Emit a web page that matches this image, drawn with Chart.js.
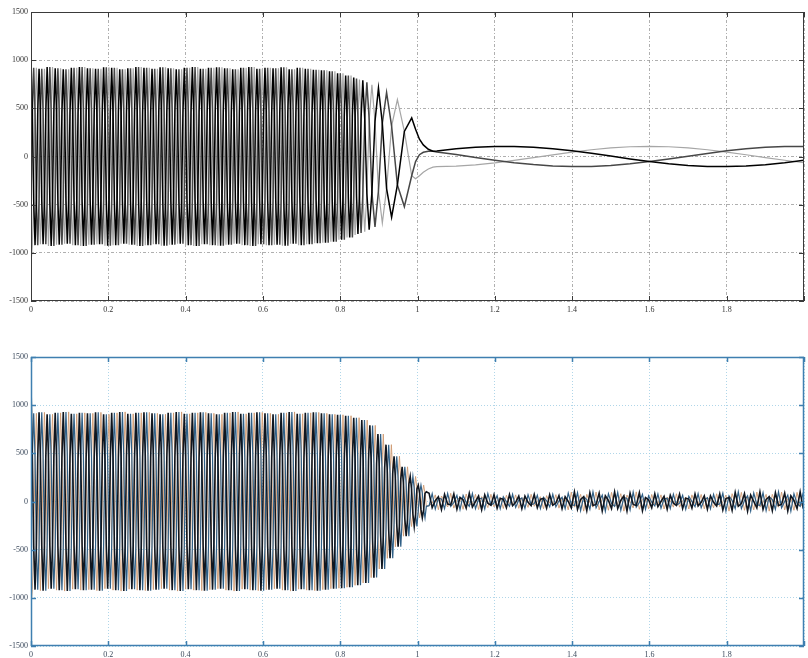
<!DOCTYPE html>
<html>
<head>
<meta charset="utf-8">
<title>Phase currents</title>
<script src="https://cdn.jsdelivr.net/npm/chart.js@4.4.1/dist/chart.umd.min.js"></script>
<style>
  html, body { margin: 0; padding: 0; background: #fff; }
  #wrap { position: relative; width: 808px; height: 658px; overflow: hidden; }
  #topChart { position: absolute; left: 0; top: 0; }
  #bottomChart { position: absolute; left: 0; top: 340px; }
</style>
</head>
<body>
<div id="wrap">
  <canvas id="topChart" width="808" height="318"></canvas>
  <canvas id="bottomChart" width="808" height="318"></canvas>
</div>
<script>
// sample spacing of the fast part: six samples per ~48 Hz cycle
var fastStep = 0.835 / 240;
var tailStart = 1.03;
var tailStep = 0.008;

var xTicks = [0, 0.2, 0.4, 0.6, 0.8, 1, 1.2, 1.4, 1.6, 1.8, 2];
var xTickLabels = ['0', '0.2', '0.4', '0.6', '0.8', '1', '1.2', '1.4', '1.6', '1.8', ''];
var yTicks = [-1500, -1000, -500, 0, 500, 1000, 1500];

// upper plot, steady part (one value per fastStep)
var topPhaseA = [
  1000, 460, -460, -920, -460, 460, 910, 455, -455, -910, -455, 455,
  930, 465, -465, -930, -465, 465, 915, 458, -458, -915, -458, 458,
  905, 453, -453, -905, -453, 453, 920, 460, -460, -920, -460, 460,
  930, 465, -465, -930, -465, 465, 915, 458, -458, -915, -458, 458,
  910, 455, -455, -910, -455, 455, 925, 463, -463, -925, -463, 463,
  920, 460, -460, -920, -460, 460, 905, 453, -453, -905, -453, 453,
  915, 458, -458, -915, -458, 458, 930, 465, -465, -930, -465, 465,
  920, 460, -460, -920, -460, 460, 910, 455, -455, -910, -455, 455,
  925, 463, -463, -925, -463, 463, 915, 458, -458, -915, -458, 458,
  905, 453, -453, -905, -453, 453, 920, 460, -460, -920, -460, 460,
  930, 465, -465, -930, -465, 465, 910, 455, -455, -910, -455, 455,
  920, 460, -460, -920, -460, 460, 925, 463, -463, -925, -463, 463,
  915, 458, -458, -915, -458, 458, 905, 453, -453, -905, -453, 453,
  920, 460, -460, -920, -460, 460, 930, 465, -465, -930, -465, 465,
  910, 455, -455, -910, -455, 455, 920, 460, -460, -920, -460, 460,
  915, 458, -458, -915, -458, 458, 925, 463, -463, -925, -463, 463,
  905, 453, -453, -905, -453, 453, 920, 460, -460, -920, -460, 460,
  910, 455, -455, -910, -455, 455, 900, 450, -450, -900, -450, 450,
  895, 448, -448, -895, -448, 448, 885, 443, -443, -885, -443, 443,
  865, 433, -433, -865, -433, 433, 840, 420, -420, -840, -420, 420,
  820
];
var topPhaseB = [
  -460, 460, 920, 460, -460, -920, -455, 455, 910, 455, -455, -910,
  -465, 465, 930, 465, -465, -930, -458, 458, 915, 458, -458, -915,
  -453, 453, 905, 453, -453, -905, -460, 460, 920, 460, -460, -920,
  -465, 465, 930, 465, -465, -930, -458, 458, 915, 458, -458, -915,
  -455, 455, 910, 455, -455, -910, -463, 463, 925, 463, -463, -925,
  -460, 460, 920, 460, -460, -920, -453, 453, 905, 453, -453, -905,
  -458, 458, 915, 458, -458, -915, -465, 465, 930, 465, -465, -930,
  -460, 460, 920, 460, -460, -920, -455, 455, 910, 455, -455, -910,
  -463, 463, 925, 463, -463, -925, -458, 458, 915, 458, -458, -915,
  -453, 453, 905, 453, -453, -905, -460, 460, 920, 460, -460, -920,
  -465, 465, 930, 465, -465, -930, -455, 455, 910, 455, -455, -910,
  -460, 460, 920, 460, -460, -920, -463, 463, 925, 463, -463, -925,
  -458, 458, 915, 458, -458, -915, -453, 453, 905, 453, -453, -905,
  -460, 460, 920, 460, -460, -920, -465, 465, 930, 465, -465, -930,
  -455, 455, 910, 455, -455, -910, -460, 460, 920, 460, -460, -920,
  -458, 458, 915, 458, -458, -915, -463, 463, 925, 463, -463, -925,
  -453, 453, 905, 453, -453, -905, -460, 460, 920, 460, -460, -920,
  -455, 455, 910, 455, -455, -910, -450, 450, 900, 450, -450, -900,
  -448, 448, 895, 448, -448, -895, -443, 443, 885, 443, -443, -885,
  -433, 433, 865, 433, -433, -865, -420, 420, 840, 420, -420, -840,
  -410
];
var topPhaseC = [
  -1100, -920, -460, 460, 920, 460, -455, -910, -455, 455, 910, 455,
  -465, -930, -465, 465, 930, 465, -458, -915, -458, 458, 915, 458,
  -453, -905, -453, 453, 905, 453, -460, -920, -460, 460, 920, 460,
  -465, -930, -465, 465, 930, 465, -458, -915, -458, 458, 915, 458,
  -455, -910, -455, 455, 910, 455, -463, -925, -463, 463, 925, 463,
  -460, -920, -460, 460, 920, 460, -453, -905, -453, 453, 905, 453,
  -458, -915, -458, 458, 915, 458, -465, -930, -465, 465, 930, 465,
  -460, -920, -460, 460, 920, 460, -455, -910, -455, 455, 910, 455,
  -463, -925, -463, 463, 925, 463, -458, -915, -458, 458, 915, 458,
  -453, -905, -453, 453, 905, 453, -460, -920, -460, 460, 920, 460,
  -465, -930, -465, 465, 930, 465, -455, -910, -455, 455, 910, 455,
  -460, -920, -460, 460, 920, 460, -463, -925, -463, 463, 925, 463,
  -458, -915, -458, 458, 915, 458, -453, -905, -453, 453, 905, 453,
  -460, -920, -460, 460, 920, 460, -465, -930, -465, 465, 930, 465,
  -455, -910, -455, 455, 910, 455, -460, -920, -460, 460, 920, 460,
  -458, -915, -458, 458, 915, 458, -463, -925, -463, 463, 925, 463,
  -453, -905, -453, 453, 905, 453, -460, -920, -460, 460, 920, 460,
  -455, -910, -455, 455, 910, 455, -450, -900, -450, 450, 900, 450,
  -448, -895, -448, 448, 895, 448, -443, -885, -443, 443, 885, 443,
  -433, -865, -433, 433, 865, 433, -420, -840, -420, 420, 840, 420,
  -410
];

// upper plot, slowing down and the slow tail
var topSlowTimes = [
  0.8386, 0.8422, 0.8459, 0.8498, 0.854, 0.8585, 0.8635, 0.869, 0.875, 0.882,
  0.89, 0.899, 0.909, 0.92, 0.933, 0.948, 0.966, 0.985,
  0.995, 1.005, 1.015, 1.028, 1.04,
  1.05, 1.1, 1.15, 1.2, 1.25, 1.3, 1.35, 1.4, 1.45, 1.5,
  1.55, 1.6, 1.65, 1.7, 1.75, 1.8, 1.85, 1.9, 1.95, 2.0
];
var topSlowA = [
  408, -405, -805, -400, 398, 790, 390, -385, -760, -373,
  365, 710, 345, -333, -630, -295, 260, 400,
  282, 180, 120, 75, 55,
  58, 80, 95, 104, 104, 96, 81, 59, 33, 4,
  -25, -52, -75, -93, -103, -105, -99, -85, -65, -39
];
var topSlowB = [
  408, 810, 403, -400, -795, -395, 390, 770, 380, -373,
  -730, -355, 345, 665, 315, -295, -520, -200,
  -52, 19, 44, 55, 55,
  47, 20, -10, -38, -64, -84, -98, -105, -103, -93,
  -76, -53, -26, 3, 32, 59, 80, 96, 104, 104
];
var topSlowC = [
  -815, -405, 403, 800, 398, -395, -780, -385, 380, 745,
  365, -355, -690, -333, 315, 590, 260, -200,
  -230, -199, -164, -130, -110,
  -105, -99, -86, -66, -40, -12, 17, 45, 70, 89,
  101, 105, 101, 89, 70, 46, 18, -11, -39, -65
];

// lower plot, steady part and collapse (one value per fastStep)
var bottomPhaseA = [
  1200, 458, -458, -915, -458, 458, 925, 463, -463, -925, -463, 463,
  905, 453, -453, -905, -453, 453, 920, 460, -460, -920, -460, 460,
  930, 465, -465, -930, -465, 465, 910, 455, -455, -910, -455, 455,
  920, 460, -460, -920, -460, 460, 915, 458, -458, -915, -458, 458,
  925, 463, -463, -925, -463, 463, 905, 453, -453, -905, -453, 453,
  920, 460, -460, -920, -460, 460, 930, 465, -465, -930, -465, 465,
  910, 455, -455, -910, -455, 455, 920, 460, -460, -920, -460, 460,
  925, 463, -463, -925, -463, 463, 915, 458, -458, -915, -458, 458,
  905, 453, -453, -905, -453, 453, 920, 460, -460, -920, -460, 460,
  930, 465, -465, -930, -465, 465, 910, 455, -455, -910, -455, 455,
  920, 460, -460, -920, -460, 460, 925, 463, -463, -925, -463, 463,
  915, 458, -458, -915, -458, 458, 905, 453, -453, -905, -453, 453,
  920, 460, -460, -920, -460, 460, 930, 465, -465, -930, -465, 465,
  910, 455, -455, -910, -455, 455, 920, 460, -460, -920, -460, 460,
  925, 463, -463, -925, -463, 463, 915, 458, -458, -915, -458, 458,
  905, 453, -453, -905, -453, 453, 920, 460, -460, -920, -460, 460,
  930, 465, -465, -930, -465, 465, 910, 455, -455, -910, -455, 455,
  920, 460, -460, -920, -460, 460, 925, 463, -463, -925, -463, 463,
  915, 458, -458, -915, -458, 458, 905, 453, -453, -905, -453, 453,
  900, 450, -450, -900, -450, 450, 890, 445, -445, -890, -445, 445,
  870, 435, -435, -870, -435, 435, 845, 423, -423, -845, -423, 423,
  790, 395, -395, -790, -395, 395, 700, 350, -350, -700, -350, 350,
  590, 295, -295, -590, -295, 295, 470, 235, -235, -470, -235, 235,
  360, 180, -180, -360, -180, 180, 260, 130, -130, -260, -130, 130,
  170, 85, -85, -170, -85, 85, 100
];
var bottomPhaseB = [
  -458, 458, 915, 458, -458, -915, -463, 463, 925, 463, -463, -925,
  -453, 453, 905, 453, -453, -905, -460, 460, 920, 460, -460, -920,
  -465, 465, 930, 465, -465, -930, -455, 455, 910, 455, -455, -910,
  -460, 460, 920, 460, -460, -920, -458, 458, 915, 458, -458, -915,
  -463, 463, 925, 463, -463, -925, -453, 453, 905, 453, -453, -905,
  -460, 460, 920, 460, -460, -920, -465, 465, 930, 465, -465, -930,
  -455, 455, 910, 455, -455, -910, -460, 460, 920, 460, -460, -920,
  -463, 463, 925, 463, -463, -925, -458, 458, 915, 458, -458, -915,
  -453, 453, 905, 453, -453, -905, -460, 460, 920, 460, -460, -920,
  -465, 465, 930, 465, -465, -930, -455, 455, 910, 455, -455, -910,
  -460, 460, 920, 460, -460, -920, -463, 463, 925, 463, -463, -925,
  -458, 458, 915, 458, -458, -915, -453, 453, 905, 453, -453, -905,
  -460, 460, 920, 460, -460, -920, -465, 465, 930, 465, -465, -930,
  -455, 455, 910, 455, -455, -910, -460, 460, 920, 460, -460, -920,
  -463, 463, 925, 463, -463, -925, -458, 458, 915, 458, -458, -915,
  -453, 453, 905, 453, -453, -905, -460, 460, 920, 460, -460, -920,
  -465, 465, 930, 465, -465, -930, -455, 455, 910, 455, -455, -910,
  -460, 460, 920, 460, -460, -920, -463, 463, 925, 463, -463, -925,
  -458, 458, 915, 458, -458, -915, -453, 453, 905, 453, -453, -905,
  -450, 450, 900, 450, -450, -900, -445, 445, 890, 445, -445, -890,
  -435, 435, 870, 435, -435, -870, -423, 423, 845, 423, -423, -845,
  -395, 395, 790, 395, -395, -790, -350, 350, 700, 350, -350, -700,
  -295, 295, 590, 295, -295, -590, -235, 235, 470, 235, -235, -470,
  -180, 180, 360, 180, -180, -360, -130, 130, 260, 130, -130, -260,
  -85, 85, 170, 85, -85, -170, -50
];
var bottomPhaseC = [
  -1080, -915, -458, 458, 915, 458, -463, -925, -463, 463, 925, 463,
  -453, -905, -453, 453, 905, 453, -460, -920, -460, 460, 920, 460,
  -465, -930, -465, 465, 930, 465, -455, -910, -455, 455, 910, 455,
  -460, -920, -460, 460, 920, 460, -458, -915, -458, 458, 915, 458,
  -463, -925, -463, 463, 925, 463, -453, -905, -453, 453, 905, 453,
  -460, -920, -460, 460, 920, 460, -465, -930, -465, 465, 930, 465,
  -455, -910, -455, 455, 910, 455, -460, -920, -460, 460, 920, 460,
  -463, -925, -463, 463, 925, 463, -458, -915, -458, 458, 915, 458,
  -453, -905, -453, 453, 905, 453, -460, -920, -460, 460, 920, 460,
  -465, -930, -465, 465, 930, 465, -455, -910, -455, 455, 910, 455,
  -460, -920, -460, 460, 920, 460, -463, -925, -463, 463, 925, 463,
  -458, -915, -458, 458, 915, 458, -453, -905, -453, 453, 905, 453,
  -460, -920, -460, 460, 920, 460, -465, -930, -465, 465, 930, 465,
  -455, -910, -455, 455, 910, 455, -460, -920, -460, 460, 920, 460,
  -463, -925, -463, 463, 925, 463, -458, -915, -458, 458, 915, 458,
  -453, -905, -453, 453, 905, 453, -460, -920, -460, 460, 920, 460,
  -465, -930, -465, 465, 930, 465, -455, -910, -455, 455, 910, 455,
  -460, -920, -460, 460, 920, 460, -463, -925, -463, 463, 925, 463,
  -458, -915, -458, 458, 915, 458, -453, -905, -453, 453, 905, 453,
  -450, -900, -450, 450, 900, 450, -445, -890, -445, 445, 890, 445,
  -435, -870, -435, 435, 870, 435, -423, -845, -423, 423, 845, 423,
  -395, -790, -395, 395, 790, 395, -350, -700, -350, 350, 700, 350,
  -295, -590, -295, 295, 590, 295, -235, -470, -235, 235, 470, 235,
  -180, -360, -180, 180, 360, 180, -130, -260, -130, 130, 260, 130,
  -85, -170, -85, 85, 170, 85, -50
];

// lower plot, ripple after 1 s (one value per tailStep)
var bottomTailA = [
  85, -63, 9, 50, -83, 74, -26, -35, 78, -81, 43, 18, -69, 85, -57, 0, 57, -85, 69, -18,
  -38, 71, -69, 31, 23, -65, 73, -44, -8, 56, -75, 56, -8, -44, 73, -65, 23, 31, -69, 71,
  -38, -16, 61, -75, 50, 0, -67, 100, -81, 21, 50, -95, 91, -41, -31, 87, -98, 59, 11, -74,
  100, -74, 11, 59, -98, 87, -31, -41, 91, -95, 40, 17, -65, 80, -54, 0, 54, -80, 65, -17,
  -40, 76, -73, 33, 25, -69, 78, -47, -8, 59, -80, 59, -8, -47, 78, -87, 31, 41, -91, 95,
  -50, -21, 81, -100, 67, 0, -67, 100, -81, 21, 50, -95, 91, -41, -31, 87, -98, 59, 11, -74,
  100, -74
];
var bottomTailB = [
  -43, 81, -78, 35, 26, -74, 83, -50, -9, 63, -85, 63, -9, -50, 83, -74, 26, 35, -78, 81,
  -38, -16, 61, -75, 50, 0, -50, 75, -61, 16, 38, -71, 69, -31, -23, 65, -73, 44, 8, -56,
  75, -56, 8, 44, -73, 87, -31, -41, 91, -95, 50, 21, -81, 100, -67, 0, 67, -100, 81, -21,
  -50, 95, -91, 41, 31, -87, 98, -59, -11, 74, -80, 59, -8, -47, 78, -69, 25, 33, -73, 76,
  -40, -17, 65, -80, 54, 0, -54, 80, -65, 17, 40, -76, 73, -33, -25, 87, -98, 59, 11, -74,
  100, -74, 11, 59, -98, 87, -31, -41, 91, -95, 50, 21, -81, 100, -67, 0, 67, -100, 81, -21,
  -50, 95
];
var bottomTailC = [
  -43, -18, 69, -85, 57, 0, -57, 85, -69, 18, 43, -81, 78, -35, -26, 74, -83, 50, 9, -63,
  75, -56, 8, 44, -73, 65, -23, -31, 69, -71, 38, 16, -61, 75, -50, 0, 50, -75, 61, -16,
  -38, 71, -69, 31, 23, -87, 98, -59, -11, 74, -100, 74, -11, -59, 98, -87, 31, 41, -91, 95,
  -50, -21, 81, -100, 67, 0, -67, 100, -81, 21, 40, -76, 73, -33, -25, 69, -78, 47, 8, -59,
  80, -59, 8, 47, -78, 69, -25, -33, 73, -76, 40, 17, -65, 80, -54, 0, 67, -100, 81, -21,
  -50, 95, -91, 41, 31, -87, 98, -59, -11, 74, -100, 74, -11, -59, 98, -87, 31, 41, -91, 95,
  -50, -21
];

function timeGrid(start, step, count) {
  var t = [];
  for (var i = 0; i < count; i++) {
    t.push(+(start + i * step).toFixed(5));
  }
  return t;
}

function points(times, values) {
  return times.map(function(t, i) {
    return { x: t, y: values[i] };
  });
}

// box round the plot plus the small inward tick marks
var boxPlugin = {
  id: 'box',
  afterDraw: function(chart, args, opts) {
    var ctx = chart.ctx;
    var a = chart.chartArea;
    var xs = chart.scales.x;
    var ys = chart.scales.y;
    ctx.save();
    ctx.strokeStyle = opts.color;
    ctx.lineWidth = opts.width;
    ctx.strokeRect(a.left + 0.5, a.top + 0.5, a.right - a.left - 1, a.bottom - a.top - 1);
    ctx.beginPath();
    xs.ticks.forEach(function(t) {
      var px = Math.round(xs.getPixelForValue(t.value)) + 0.5;
      ctx.moveTo(px, a.bottom);
      ctx.lineTo(px, a.bottom - 5);
      ctx.moveTo(px, a.top);
      ctx.lineTo(px, a.top + 5);
    });
    ys.ticks.forEach(function(t) {
      var py = Math.round(ys.getPixelForValue(t.value)) + 0.5;
      ctx.moveTo(a.left, py);
      ctx.lineTo(a.left + 5, py);
      ctx.moveTo(a.right, py);
      ctx.lineTo(a.right - 5, py);
    });
    ctx.stroke();
    ctx.restore();
  }
};

function makeChart(id, datasets, look) {
  var tickFont = { family: 'Liberation Serif', size: 8 };
  return new Chart(document.getElementById(id), {
    type: 'line',
    data: { datasets: datasets },
    options: {
      responsive: false,
      animation: false,
      devicePixelRatio: 1,
      parsing: false,
      normalized: true,
      layout: { padding: { top: look.padTop, right: 1, left: 0, bottom: 0 } },
      elements: { point: { radius: 0 }, line: { tension: 0 } },
      plugins: {
        legend: { display: false },
        tooltip: { enabled: false },
        box: { color: look.box, width: look.boxWidth }
      },
      scales: {
        x: {
          type: 'linear',
          min: 0,
          max: 2,
          afterBuildTicks: function(s) {
            s.ticks = xTicks.map(function(v) { return { value: v }; });
          },
          afterFit: function(s) { s.height = look.xHeight; },
          ticks: {
            autoSkip: false,
            maxRotation: 0,
            padding: 4,
            color: look.label,
            font: tickFont,
            callback: function(v, i) { return xTickLabels[i]; }
          },
          grid: { color: look.grid, lineWidth: 0.8, drawTicks: false },
          border: { display: false, dash: look.dash }
        },
        y: {
          min: -1500,
          max: 1500,
          afterBuildTicks: function(s) {
            s.ticks = yTicks.map(function(v) { return { value: v }; });
          },
          afterFit: function(s) { s.width = 31; },
          ticks: {
            padding: 3,
            color: look.label,
            font: tickFont,
            callback: function(v) { return String(v); }
          },
          grid: { color: look.grid, lineWidth: 0.8, drawTicks: false },
          border: { display: false, dash: look.dash }
        }
      }
    },
    plugins: [boxPlugin]
  });
}

var topTimes = timeGrid(0, fastStep, topPhaseA.length).concat(topSlowTimes);

makeChart('topChart', [
  { data: points(topTimes, topPhaseA.concat(topSlowA)), borderColor: '#000000', borderWidth: 1.5 },
  { data: points(topTimes, topPhaseB.concat(topSlowB)), borderColor: '#474747', borderWidth: 1.5 },
  { data: points(topTimes, topPhaseC.concat(topSlowC)), borderColor: '#a6a6a6', borderWidth: 1.2 }
], {
  padTop: 12, xHeight: 17, box: '#3a3a3a', boxWidth: 1,
  grid: '#9a9a9a', dash: [3, 2, 1, 2], label: '#333333'
});

var bottomTimes = timeGrid(0, fastStep, bottomPhaseA.length)
  .concat(timeGrid(tailStart, tailStep, bottomTailA.length));

makeChart('bottomChart', [
  { data: points(bottomTimes, bottomPhaseA.concat(bottomTailA)), borderColor: '#10161f', borderWidth: 1.6 },
  { data: points(bottomTimes, bottomPhaseB.concat(bottomTailB)), borderColor: '#2f5f86', borderWidth: 1.2 },
  { data: points(bottomTimes, bottomPhaseC.concat(bottomTailC)), borderColor: '#cf9a70', borderWidth: 0.9 }
], {
  padTop: 17, xHeight: 12, box: '#3f7fb0', boxWidth: 1.5,
  grid: '#9ccbe3', dash: [1, 2], label: '#3c4a5c'
});
</script>
</body>
</html>
